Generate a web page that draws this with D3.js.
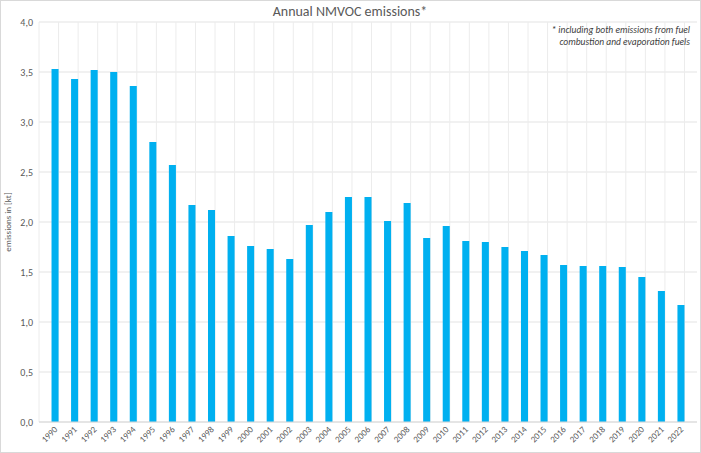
<!DOCTYPE html>
<html><head><meta charset="utf-8">
<script src="https://cdn.jsdelivr.net/npm/d3@7"></script>
<style>body{margin:0;background:#fff}svg{font-family:Calibri,Carlito,"Open Sans",sans-serif}</style>
</head><body><svg id="chart" width="701" height="453"></svg>
<script>
const years = d3.range(1990, 2023).map(String);
const emissions = [3.53, 3.43, 3.52, 3.50, 3.36, 2.80, 2.57, 2.17, 2.12, 1.86, 1.76, 1.73, 1.63, 1.97, 2.10,
  2.25, 2.25, 2.01, 2.19, 1.84, 1.96, 1.81, 1.80, 1.75, 1.71, 1.67, 1.57, 1.56, 1.56, 1.55, 1.45, 1.31, 1.17];
const yTicks = [0, 0.5, 1, 1.5, 2, 2.5, 3, 3.5, 4];

const svg = d3.select('#chart');
const plotL = 39, plotR = 697, plotT = 22, plotB = 422;

svg.append('rect').attr('x', 0.5).attr('y', 0.5).attr('width', 700).attr('height', 452)
  .attr('fill', '#fff').attr('stroke', '#d9d9d9');

const x = d3.scaleBand().domain(years).range([plotL, plotR]).padding(0.64);
const y = d3.scaleLinear().domain([0, 4]).range([plotB, plotT]);

// gridlines
svg.append('g').selectAll('line').data(yTicks).join('line')
  .attr('x1', plotL).attr('x2', plotR).attr('y1', d => y(d)).attr('y2', d => y(d))
  .attr('stroke', '#e3e3e3');
const step = x.step();
svg.append('g').selectAll('line').data(d3.range(years.length + 1)).join('line')
  .attr('x1', i => plotL + i * step).attr('x2', i => plotL + i * step)
  .attr('y1', plotT).attr('y2', plotB).attr('stroke', '#ececec');

svg.append('g').selectAll('rect').data(emissions).join('rect')
  .attr('x', (d, i) => x(years[i])).attr('width', x.bandwidth())
  .attr('y', d => y(d)).attr('height', d => y(0) - y(d)).attr('fill', '#00b0f0');

svg.append('line').attr('x1', plotL).attr('x2', plotR).attr('y1', plotB).attr('y2', plotB).attr('stroke', '#d9d9d9');

const fmt = d3.format('.1f');
svg.append('g').selectAll('text').data(yTicks).join('text')
  .attr('x', plotL - 6).attr('y', d => y(d) + 3.5).attr('text-anchor', 'end')
  .attr('font-size', 10).attr('fill', '#595959').text(d => fmt(d).replace('.', ','));

svg.append('g').selectAll('text').data(years).join('text')
  .attr('transform', d => `translate(${x(d) + x.bandwidth() / 2 + 3},${plotB + 8}) rotate(-45)`)
  .attr('text-anchor', 'end').attr('font-size', 9).attr('fill', '#595959').text(d => d);

svg.append('text').attr('transform', `translate(11,${(plotT + plotB) / 2}) rotate(-90)`)
  .attr('text-anchor', 'middle').attr('font-size', 9).attr('fill', '#595959').text('emissions in [kt]');

svg.append('text').attr('x', 350).attr('y', 16).attr('text-anchor', 'middle')
  .attr('font-size', 14).attr('fill', '#595959').text('Annual NMVOC emissions*');

const note = svg.append('text').attr('text-anchor', 'end').attr('font-size', 9.5)
  .attr('font-style', 'italic').attr('fill', '#404040');
note.append('tspan').attr('x', 690).attr('y', 33).text('* including both emissions from fuel');
note.append('tspan').attr('x', 690).attr('y', 45).text('combustion and evaporation fuels');
</script></body></html>
